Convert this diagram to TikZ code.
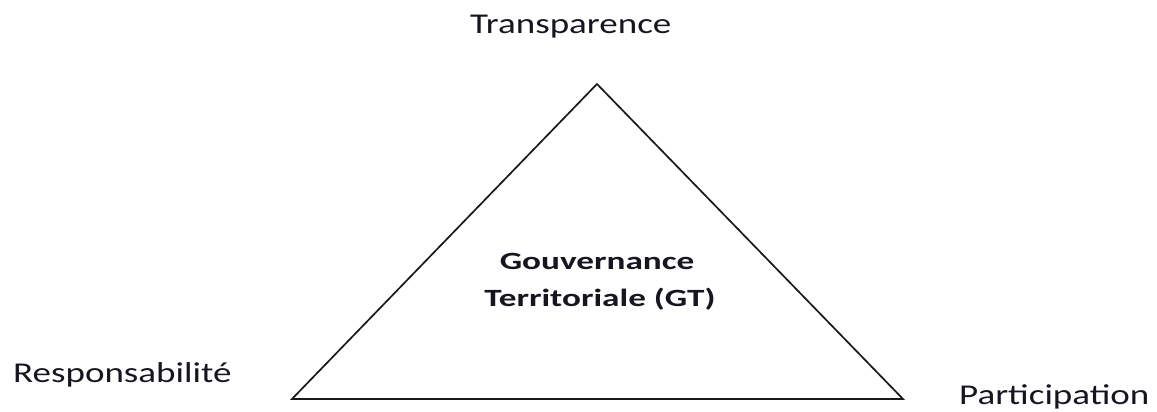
\documentclass[tikz,border=0pt]{standalone}
\usepackage{fontspec}
\newfontfamily\regfont[FakeStretch=1.29]{Carlito}
\newfontfamily\boldfont[FakeStretch=1.42]{Carlito}
\definecolor{txt}{HTML}{161620}
\begin{document}
\begin{tikzpicture}[x=1pt,y=-1pt,
  lbl/.style={inner sep=0pt, anchor=base west, text=txt, font=\regfont\fontsize{28.7}{34}\selectfont},
  ctr/.style={inner sep=0pt, anchor=base, text=txt, font=\boldfont\bfseries\fontsize{24.8}{30}\selectfont},
  tri/.style={draw=black!90, line width=1.7pt, line join=miter}]
\useasboundingbox (0,0) rectangle (1157,412);
\coordinate (apex) at (597,84);
\coordinate (bl) at (292,399);
\coordinate (br) at (903,399);
\draw[tri] (apex) -- (bl) -- (br) -- cycle;
\node[lbl] (trans) at (470,34) {Transparence};
\node[lbl] (resp) at (13,382) {Responsabilité};
\node[lbl] (part) at (959,404) {Participation};
\node[ctr] (gt1) at (597,269) {Gouvernance};
\node[ctr] (gt2) at (600,306) {Territoriale (GT)};
\end{tikzpicture}
\end{document}
